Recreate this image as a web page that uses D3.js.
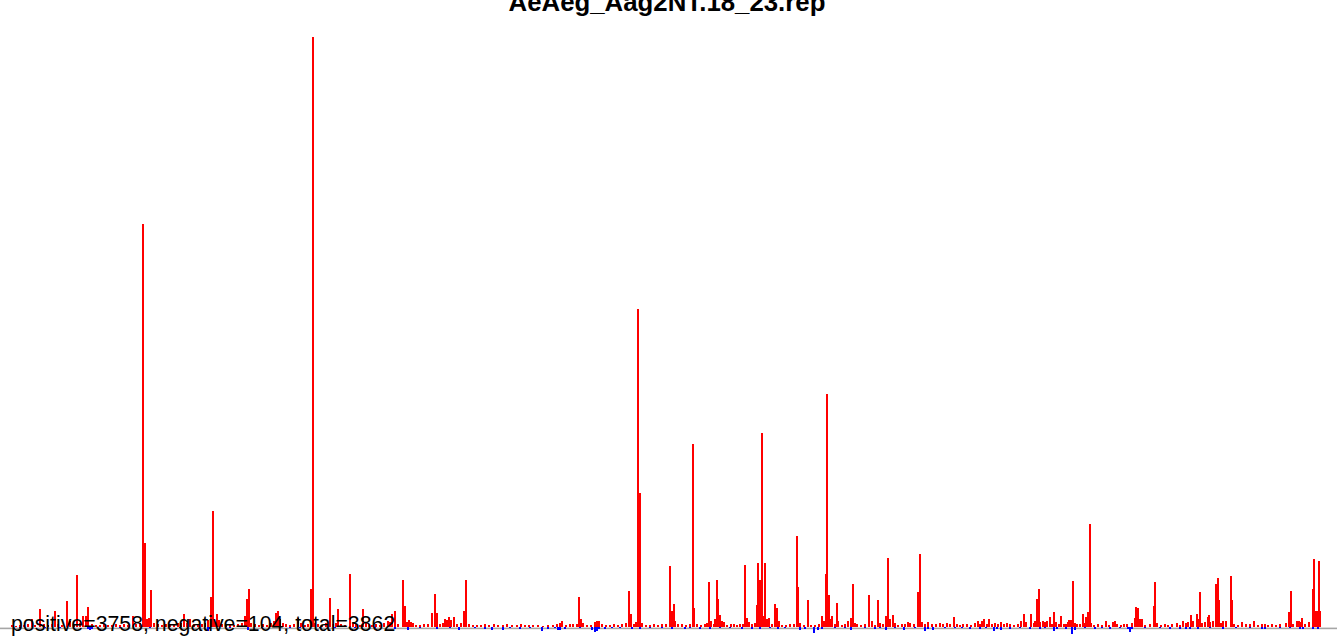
<!DOCTYPE html>
<html>
<head>
<meta charset="utf-8">
<script src="https://cdn.jsdelivr.net/npm/d3@7"></script>
<style>
  body { margin: 0; background: #fff; }
  svg { display: block; }
</style>
</head>
<body>
<div id="vis"></div>
<script>
// Constants for the frame
const FRAME_WIDTH = 1337;
const FRAME_HEIGHT = 636;

const TITLE = "AeAeg_Aag2NT.18_23.rep";
const SUMMARY = "positive=3758, negative=104, total=3862";

// positive reads (position along the reference, count)
const redPos = [12,16,20,24,28,32,35,40,44,48,52,55,58,62,67,70,74,77,80,83,86,88,92,96,100,104,108,112,116,120,124,128,133,136,140,143,145,147,149,151,154,158,162,166,170,174,178,181,184,187,190,194,198,202,205,208,211,213,215,217,219,222,226,230,234,238,242,245,247,249,251,255,259,263,267,271,274,276,278,280,283,286,290,294,298,301,305,308,311,313,315,318,322,326,330,333,336,338,341,345,350,353,356,360,363,366,369,372,376,380,384,388,390,392,395,398,403,405,407,409,411,413,416,420,424,428,432,435,437,440,443,445,447,449,451,454,457,461,464,466,469,473,477,481,485,489,494,498,503,507,512,517,521,525,529,533,538,543,548,553,557,560,562,566,570,573,577,579,581,583,587,591,595,597,599,602,606,610,614,618,622,626,629,631,634,636,638,640,642,646,650,654,658,662,666,670,672,674,675,678,682,686,690,693,694,697,701,705,707,709,711,714,715,717,718,720,722,724,727,731,734,737,740,743,745,747,749,752,755,757,758,760,762,763,765,767,769,772,775,777,779,782,786,790,794,797,798,800,804,808,811,815,819,822,824,826,827,829,831,832,835,837,838,842,845,848,851,853,855,857,861,865,869,872,875,878,880,883,886,888,890,893,895,898,902,905,908,910,914,918,920,922,925,928,932,936,940,943,947,950,954,957,960,963,967,971,975,978,980,982,984,987,989,992,995,998,1001,1004,1007,1010,1014,1018,1021,1024,1026,1031,1034,1035,1037,1039,1040,1043,1045,1047,1050,1052,1054,1056,1059,1061,1064,1066,1068,1069,1071,1073,1075,1077,1080,1083,1084,1086,1088,1090,1091,1094,1098,1102,1106,1109,1113,1115,1117,1121,1124,1127,1132,1135,1136,1138,1140,1142,1145,1150,1154,1155,1157,1161,1165,1168,1172,1177,1180,1183,1186,1188,1191,1193,1197,1198,1200,1202,1205,1208,1209,1210,1213,1216,1218,1219,1221,1223,1226,1231,1232,1234,1238,1242,1246,1250,1254,1258,1262,1265,1268,1272,1276,1280,1286,1289,1291,1293,1297,1299,1300,1302,1305,1309,1313,1314,1316,1318,1319,1320];
const redVal = [2,1,2,2,3,8,2,18,3,2,3,16,3,2,26,6,3,52,4,11,11,20,3,2,2,3,2,2,3,2,3,2,11,3,4,403,84,8,9,37,4,3,2,3,2,3,4,4,13,4,8,3,2,3,4,7,30,116,5,13,7,3,2,3,2,3,4,11,28,38,4,3,2,3,2,4,6,14,16,8,4,3,2,3,9,4,2,3,38,590,4,3,2,4,29,3,4,18,3,2,53,4,3,2,18,4,3,2,3,2,4,6,5,13,16,3,47,21,5,7,5,4,2,2,3,3,14,33,14,3,4,8,7,10,7,10,3,4,16,47,3,2,2,2,3,2,3,2,2,3,2,2,3,2,2,2,2,1,2,2,3,4,6,2,3,3,3,30,8,4,2,2,5,6,6,3,2,2,3,2,3,4,36,13,3,5,318,134,4,2,2,3,2,3,3,61,16,23,6,3,3,2,3,183,19,3,2,3,4,45,6,3,8,47,28,12,6,5,2,3,3,2,3,3,62,9,5,3,4,22,64,47,194,11,64,8,9,3,23,19,6,2,2,3,3,91,40,4,2,27,2,2,3,11,6,53,233,32,8,11,3,24,6,2,3,6,9,43,4,3,2,3,32,6,2,27,4,3,11,69,8,12,4,2,3,3,5,4,3,35,73,5,3,5,3,3,4,3,4,3,10,3,2,3,3,2,4,6,3,6,8,3,8,3,4,3,5,3,4,3,2,3,6,13,5,13,4,6,28,38,5,6,5,6,10,3,15,5,3,11,3,3,5,7,7,46,4,3,3,13,4,10,15,103,4,2,3,2,6,2,5,6,3,2,3,3,4,9,20,19,8,8,2,3,21,45,4,2,3,2,3,4,2,6,4,5,12,6,13,8,35,4,5,10,12,5,6,43,49,27,4,6,6,51,27,3,2,5,3,3,6,2,3,3,2,3,2,3,4,15,36,3,6,6,5,9,3,5,38,68,16,16,66,16];

// negative reads
const bluePos = [20,45,60,88,90,92,120,150,180,208,210,230,248,262,290,300,320,335,355,375,395,408,420,437,450,459,475,485,492,503,510,520,530,542,548,555,558,560,565,580,592,595,597,599,605,612,620,632,640,650,662,672,685,690,700,710,720,730,742,752,760,770,778,785,800,805,814,818,822,835,845,851,865,875,880,886,895,904,915,925,928,933,945,955,962,970,980,986,994,997,1001,1010,1020,1030,1040,1045,1054,1057,1066,1072,1075,1085,1095,1102,1110,1120,1128,1130,1132,1145,1160,1170,1180,1186,1190,1198,1210,1223,1236,1250,1262,1265,1280,1290,1300,1303,1313,1318];
const blueVal = [-1,-1,-1,-2,-3,-2,-1,-1,-1,-4,-2,-1,-3,-1,-1,-1,-1,-1,-1,-1,-2,-3,-1,-2,-1,-3,-1,-2,-3,-3,-1,-2,-1,-4,-2,-1,-3,-3,-2,-1,-3,-5,-4,-2,-2,-1,-1,-2,-2,-1,-1,-2,-2,-1,-2,-2,-1,-1,-2,-2,-2,-1,-2,-1,-3,-2,-6,-3,-2,-1,-1,-3,-1,-2,-1,-3,-1,-3,-1,-4,-2,-3,-1,-1,-1,-2,-2,-1,-4,-2,-3,-2,-1,-2,-2,-1,-4,-2,-2,-7,-3,-1,-2,-1,-2,-1,-2,-5,-2,-1,-1,-2,-2,-2,-2,-2,-1,-2,-1,-1,-2,-2,-1,-1,-2,-2,-2,-2];

const RED = redPos.map((p, i) => ({pos: p, val: redVal[i]}));
const BLUE = bluePos.map((p, i) => ({pos: p, val: blueVal[i]}));

// Scales
const X_SCALE = d3.scaleLinear()
    .domain([0, 1337])
    .range([0, FRAME_WIDTH]);
const Y_SCALE = d3.scaleLinear()
    .domain([0, 590])
    .range([627, 37]);
const BAR_W = 1.5;

const FRAME = d3.select("#vis")
    .append("svg")
    .attr("width", FRAME_WIDTH)
    .attr("height", FRAME_HEIGHT);

// grey axis line
FRAME.append("rect")
    .attr("x", 0)
    .attr("y", 627.6)
    .attr("width", FRAME_WIDTH)
    .attr("height", 1.6)
    .attr("fill", "#a6a6a6");

// positive bars
FRAME.selectAll(".pos")
    .data(RED)
    .enter()
    .append("rect")
    .attr("x", (d) => X_SCALE(d.pos) - BAR_W / 2)
    .attr("y", (d) => Y_SCALE(d.val))
    .attr("width", BAR_W)
    .attr("height", (d) => Y_SCALE(0) - Y_SCALE(d.val))
    .attr("fill", "#ff0000")
    .attr("shape-rendering", "crispEdges");

// negative bars
FRAME.selectAll(".neg")
    .data(BLUE)
    .enter()
    .append("rect")
    .attr("x", (d) => X_SCALE(d.pos) - BAR_W / 2)
    .attr("y", Y_SCALE(0))
    .attr("width", BAR_W)
    .attr("height", (d) => Y_SCALE(d.val) - Y_SCALE(0))
    .attr("fill", "#0000ff")
    .attr("shape-rendering", "crispEdges");

// title (cut by the top edge, as in the original)
FRAME.append("text")
    .attr("x", 667)
    .attr("y", 11)
    .attr("text-anchor", "middle")
    .attr("font-family", "Liberation Sans, Arial, sans-serif")
    .attr("font-weight", "bold")
    .attr("font-size", "25.8px")
    .text(TITLE);

// counts
FRAME.append("text")
    .attr("x", 11)
    .attr("y", 631)
    .attr("font-family", "Liberation Sans, Arial, sans-serif")
    .attr("font-size", "21.3px")
    .text(SUMMARY);
</script>
</body>
</html>
